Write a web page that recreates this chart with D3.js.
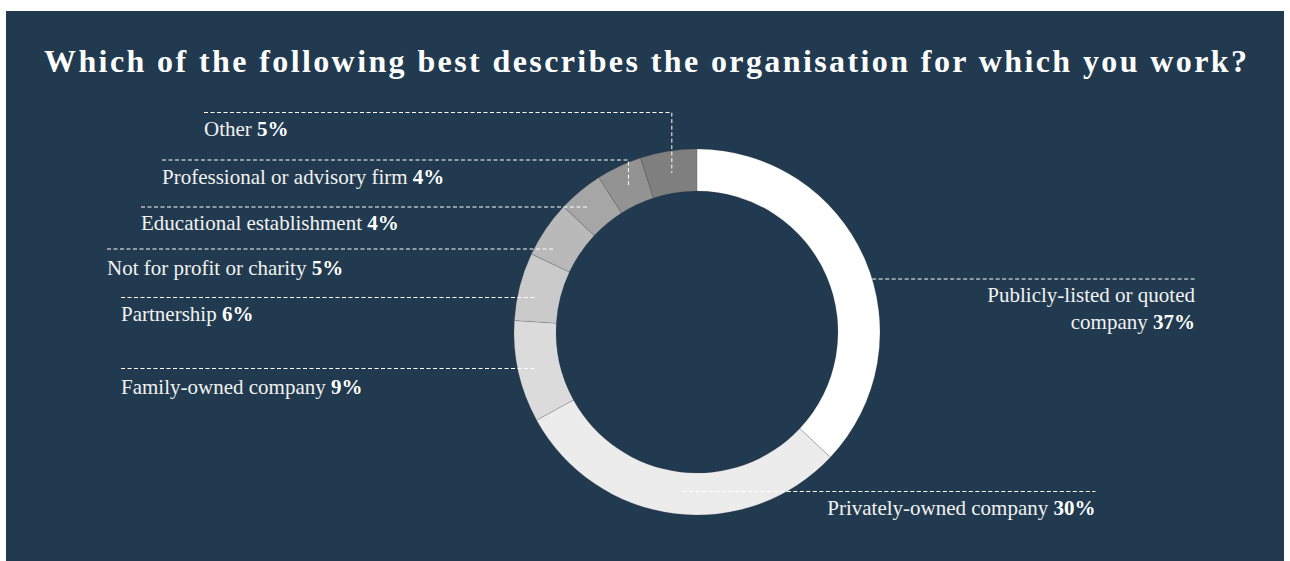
<!DOCTYPE html>
<html>
<head>
<meta charset="utf-8">
<script src="https://cdn.jsdelivr.net/npm/d3@7"></script>
<style>
  html, body { margin: 0; padding: 0; background: #ffffff; }
  svg { display: block; }
  text { font-family: "Liberation Serif", "Times New Roman", serif; fill: #f2f2f2; }
</style>
</head>
<body>
<svg id="chart" width="1290" height="561"></svg>
<script>
// Survey answers, in the order they run clockwise from 12 o'clock
const categories = [
  "Publicly-listed or quoted company",
  "Privately-owned company",
  "Family-owned company",
  "Partnership",
  "Not for profit or charity",
  "Educational establishment",
  "Professional or advisory firm",
  "Other"
];
const shares = [37, 30, 9, 6, 5, 4, 4, 5];
const sliceColors = ["#ffffff", "#ececec", "#dbdbdb", "#cacaca", "#b9b9b9", "#a6a6a6", "#939393", "#7f7f7f"];

const title = "Which of the following best describes the organisation for which you work?";

// Where each callout sits: "left" labels run a guide to the ring from the left,
// "elbow" labels drop a guide down into their slice, "right" labels are right-aligned.
const callouts = [
  { kind: "right", lineY: 279,   textX: 1195, textY: [301.5, 329], lines: ["Publicly-listed or quoted", "company"] },
  { kind: "rightInner", lineY: 491.5, textX: 1095.5, textY: [515], lines: ["Privately-owned company"] },
  { kind: "left",  lineY: 368.5, textX: 121, textY: [393.5] },
  { kind: "left",  lineY: 297.5, textX: 121, textY: [321] },
  { kind: "left",  lineY: 249,   textX: 107, textY: [275] },
  { kind: "left",  lineY: 207,   textX: 141, textY: [229.5] },
  { kind: "elbow", lineY: 160,   textX: 162, textY: [183.5] },
  { kind: "elbow", lineY: 112.5, textX: 204, textY: [135.5] }
];

const W = 1290, H = 561;
const svg = d3.select("#chart");

// Navy panel
svg.append("rect")
  .attr("x", 6).attr("y", 11)
  .attr("width", 1278).attr("height", H - 11)
  .attr("fill", "#213a4f");

// Title
svg.append("text")
  .attr("x", 44).attr("y", 72)
  .attr("textLength", 1203)
  .attr("lengthAdjust", "spacing")
  .style("font-size", "32px")
  .style("font-weight", "bold")
  .style("fill", "#ffffff")
  .text(title);

// Donut geometry
const cx = 697, cy = 332;
const outerR = 183, innerR = 141;
const guideR = 166;    // radius the left-hand guides stop on
const centroidR = 161; // radius used to anchor guides inside a slice

const data = categories.map((c, i) => ({ category: c, value: shares[i], color: sliceColors[i], callout: callouts[i] }));

const pie = d3.pie().value(d => d.value).sort(null);
const arcs = pie(data);

const arc = d3.arc().innerRadius(innerR).outerRadius(outerR);
const midArc = d3.arc().innerRadius(centroidR).outerRadius(centroidR);

const g = svg.append("g").attr("transform", `translate(${cx},${cy})`);

g.selectAll("path.slice")
  .data(arcs)
  .join("path")
  .attr("class", "slice")
  .attr("d", arc)
  .attr("fill", d => d.data.color)
  .attr("stroke", "rgba(60,60,60,0.35)")
  .attr("stroke-width", 0.5);

// Guides
const guides = svg.append("g")
  .attr("fill", "none")
  .attr("stroke", "#ffffff")
  .attr("stroke-width", 1)
  .attr("stroke-dasharray", "4,2.5");

arcs.forEach(a => {
  const c = a.data.callout;
  const [mx, my] = midArc.centroid(a);
  let pts;
  if (c.kind === "left") {
    const dy = c.lineY - cy;
    const ex = cx - Math.sqrt(guideR * guideR - dy * dy);
    pts = [[c.textX, c.lineY], [ex, c.lineY]];
  } else if (c.kind === "elbow") {
    pts = [[c.textX, c.lineY], [cx + mx, c.lineY], [cx + mx, cy + my]];
  } else if (c.kind === "right") {
    const dy = c.lineY - cy;
    const sx = cx + Math.sqrt(outerR * outerR - dy * dy);
    pts = [[sx, c.lineY], [c.textX, c.lineY]];
  } else {
    pts = [[cx + mx + 6, c.lineY], [c.textX, c.lineY]];
  }
  guides.append("path").attr("d", d3.line()(pts));
});

// Labels
const labelSize = 21;
arcs.forEach(a => {
  const c = a.data.callout;
  const lines = c.lines || [a.data.category];
  const anchor = (c.kind === "right" || c.kind === "rightInner") ? "end" : "start";
  lines.forEach((ln, i) => {
    const t = svg.append("text")
      .attr("x", c.textX)
      .attr("y", c.textY[i])
      .attr("text-anchor", anchor)
      .style("font-size", labelSize + "px");
    t.append("tspan").text(ln);
    if (i === lines.length - 1) {
      t.append("tspan").text(" ");
      t.append("tspan").style("font-weight", "bold").style("fill", "#ffffff").text(a.data.value + "%");
    }
  });
});
</script>
</body>
</html>
